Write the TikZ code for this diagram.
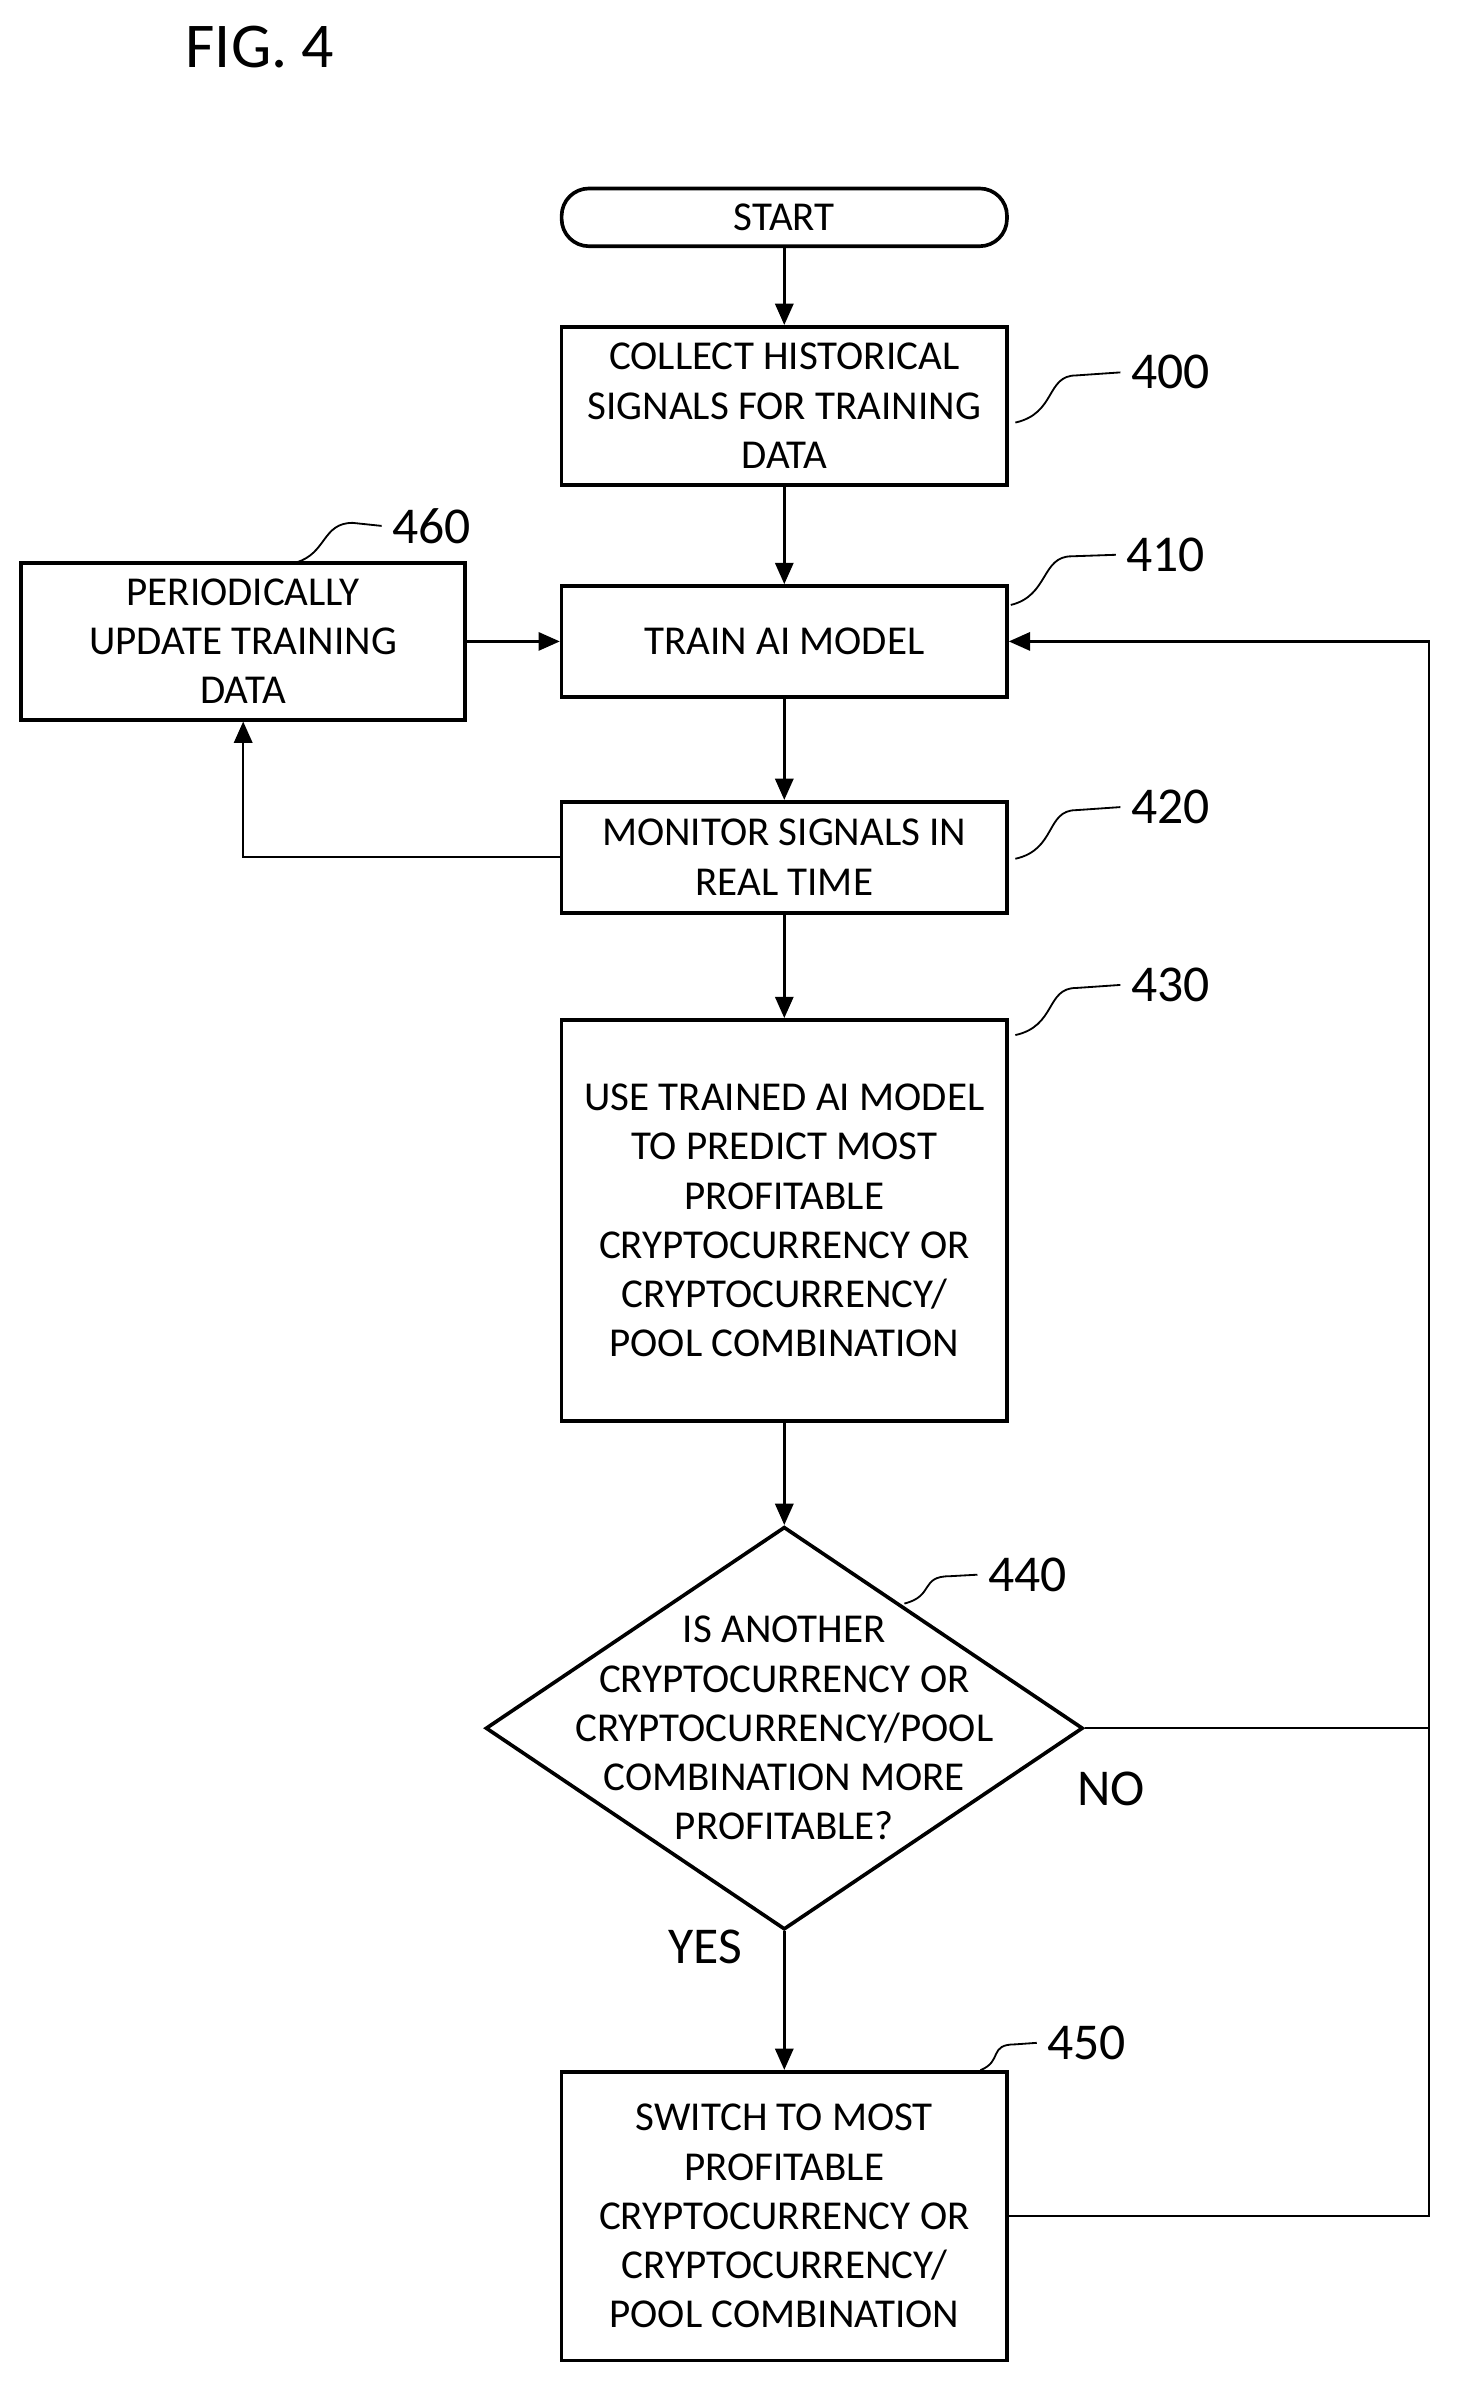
\documentclass[tikz,border=0pt]{standalone}
\usepackage{fontspec}
\setmainfont{Carlito}
\usetikzlibrary{shapes.geometric,arrows.meta}
\begin{document}
\begin{tikzpicture}[x=0.5pt,y=-0.5pt,
  box/.style={draw,line width=1.2pt,minimum width=146.5pt,align=center,inner sep=0pt,font=\fontsize{13.5}{16.2}\selectfont},
  lbl/.style={font=\fontsize{17}{20}\selectfont},
  ar/.style={line width=0.8pt,-{Triangle[length=7pt,width=6pt]}},
  ln/.style={line width=0.8pt},
  ld/.style={line width=0.6pt}]
\useasboundingbox (0,0) rectangle (960,1579);
\node[font=\fontsize{21}{25}\selectfont] (fig) at (171,31) {FIG. 4};
\node[box,rounded corners=9pt,minimum height=19pt] (start) at (516,143) {START};
\node[box,minimum height=52pt] (b400) at (516,267) {COLLECT HISTORICAL\\SIGNALS FOR TRAINING\\DATA};
\node[box,minimum width=146pt,minimum height=51.5pt] (b460) at (160,422) {PERIODICALLY\\UPDATE TRAINING\\DATA};
\node[box,minimum height=36.5pt] (b410) at (516,422) {TRAIN AI MODEL};
\node[box,minimum height=36.5pt] (b420) at (516,564) {MONITOR SIGNALS IN\\REAL TIME};
\node[box,minimum height=132pt] (b430) at (516,803) {USE TRAINED AI MODEL\\TO PREDICT MOST\\PROFITABLE\\CRYPTOCURRENCY OR\\CRYPTOCURRENCY/\\POOL COMBINATION};
\node[draw,line width=1.2pt,diamond,minimum width=196.5pt,minimum height=132.5pt,inner sep=0pt] (d440) at (516,1137) {};
\node[align=center,font=\fontsize{13.5}{16.2}\selectfont] (t440) at (516,1137) {IS ANOTHER\\CRYPTOCURRENCY OR\\CRYPTOCURRENCY/POOL\\COMBINATION MORE\\PROFITABLE?};
\node[box,minimum height=95pt] (b450) at (516,1458) {SWITCH TO MOST\\PROFITABLE\\CRYPTOCURRENCY OR\\CRYPTOCURRENCY/\\POOL COMBINATION};
% labels
\node[lbl] (l400) at (770,245) {400};
\node[lbl] (l460) at (284,346) {460};
\node[lbl] (l410) at (767,365) {410};
\node[lbl] (l420) at (770,531) {420};
\node[lbl] (l430) at (770,648) {430};
\node[lbl] (l440) at (676,1036) {440};
\node[lbl] (l450) at (715,1344) {450};
\node[lbl] (no) at (731,1177) {NO};
\node[lbl] (yes) at (464,1281) {YES};
% leaders
\draw[ld] (668,278) .. controls (695,272) and (688,247) .. (708,247) -- (l400.west);
\draw[ld] (195,370) .. controls (215,364) and (212,344) .. (232,344) -- (l460.west);
\draw[ld] (665,398) .. controls (690,392) and (685,366) .. (705,366) -- (l410.west);
\draw[ld] (668,565) .. controls (695,559) and (688,533) .. (708,533) -- (l420.west);
\draw[ld] (668,681) .. controls (695,675) and (688,650) .. (708,650) -- (l430.west);
\draw[ld] (595,1055) .. controls (615,1050) and (605,1037) .. (625,1037) -- (l440.west);
\draw[ld] (645,1362) .. controls (660,1356) and (650,1345) .. (668,1345) -- (l450.west);
% connectors
\draw[ar] (start) -- (b400);
\draw[ar] (b400) -- (b410);
\draw[ar] (b460) -- (b410);
\draw[ar] (b410) -- (b420);
\draw[ar] (b420.west) -| (b460.south);
\draw[ar] (b420) -- (b430);
\draw[ar] (b430) -- (d440.north);
\draw[ar] (d440.south) -- (b450);
\coordinate (c1) at (940,1137);
\draw[ln] (d440.east) -- (c1);
\draw[ar] (b450.east) -| (c1) |- (b410.east);
\end{tikzpicture}
\end{document}
